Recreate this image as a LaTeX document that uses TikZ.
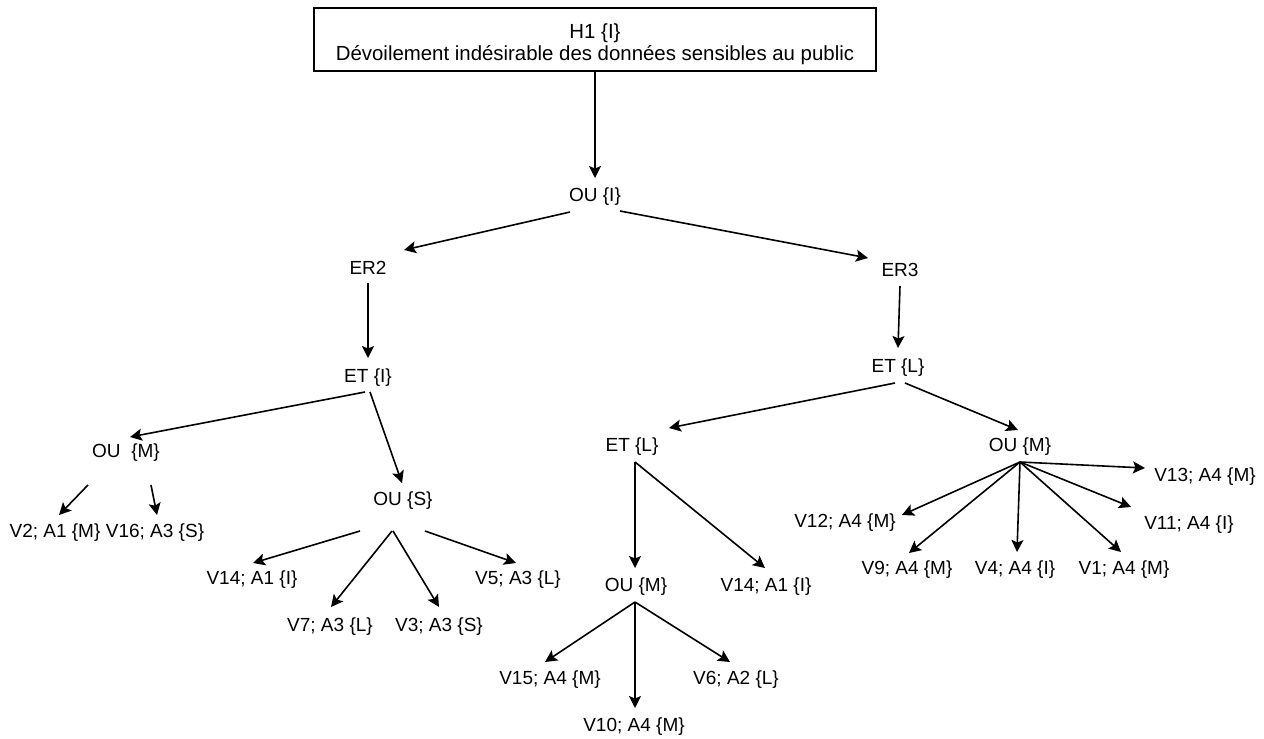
\documentclass[tikz,border=0pt]{standalone}
\usepackage{fontspec}
\setmainfont{Liberation Sans}
\usetikzlibrary{arrows.meta,calc}
\begin{document}
\begin{tikzpicture}[x=1pt,y=-1pt,
  lbl/.style={inner sep=0pt, font=\fontsize{19}{22}\selectfont},
  arr/.style={draw, line width=1.6pt, -{Stealth[length=12pt,width=12pt,inset=2.5pt]}}]
\useasboundingbox (0,0) rectangle (1264,739);
\node[draw, line width=1.5pt, minimum width=562pt, minimum height=63pt, inner sep=0pt, align=center, font=\fontsize{20.4}{22}\selectfont] (h1) at (595,39.5) {\rule{0pt}{25pt}H1 \{I\}\\Dévoilement indésirable des données sensibles au public};
\node[lbl] (oui) at (595,197) {OU \{I\}};
\node[lbl] (er2) at (368,268) {ER2};
\node[lbl] (er3) at (900,270) {ER3};
\node[lbl] (eti) at (368,378) {ET \{I\}};
\node[lbl] (etl) at (898,368) {ET \{L\}};
\node[lbl] (oum1) at (126,453) {OU~~\{M\}};
\node[lbl] (ous) at (403,501) {OU \{S\}};
\node[lbl] (v2) at (55,533) {V2; A1 \{M\}};
\node[lbl] (v16) at (155,533) {V16; A3 \{S\}};
\node[lbl] (v14a) at (252,580) {V14; A1 \{I\}};
\node[lbl] (v7) at (330,627) {V7; A3 \{L\}};
\node[lbl] (v3) at (439,627) {V3; A3 \{S\}};
\node[lbl] (v5) at (518,580) {V5; A3 \{L\}};
\node[lbl] (etl2) at (632,447) {ET \{L\}};
\node[lbl] (oum2) at (1020,447) {OU \{M\}};
\node[lbl] (oum3) at (636,587) {OU \{M\}};
\node[lbl] (v14b) at (766,587) {V14; A1 \{I\}};
\node[lbl] (v15) at (550,680) {V15; A4 \{M\}};
\node[lbl] (v10) at (634,727) {V10; A4 \{M\}};
\node[lbl] (v6) at (736,680) {V6; A2 \{L\}};
\node[lbl] (v13) at (1205,477) {V13; A4 \{M\}};
\node[lbl] (v11) at (1189,525) {V11; A4 \{I\}};
\node[lbl] (v1) at (1124,570) {V1; A4 \{M\}};
\node[lbl] (v4) at (1015,570) {V4; A4 \{I\}};
\node[lbl] (v9) at (907,570) {V9; A4 \{M\}};
\node[lbl] (v12) at (845,523) {V12; A4 \{M\}};
% connectors
\draw[arr] ($(h1)+(0,31)$) -- ($(oui)+(0,-19)$);
\draw[arr] ($(oui)+(-25,15)$) -- ($(er2)+(36,-18)$);
\draw[arr] ($(oui)+(25,14)$) -- ($(er3)+(-32,-12)$);
\draw[arr] ($(er2)+(0,15)$) -- ($(eti)+(0,-20)$);
\draw[arr] ($(er3)+(0,16)$) -- ($(etl)+(0,-20)$);
\draw[arr] ($(eti)+(-3,14)$) -- ($(oum1)+(4,-16)$);
\draw[arr] ($(eti)+(2,14)$) -- ($(ous)+(-1,-18)$);
\draw[arr] ($(oum1)+(-38,32)$) -- ($(v2)+(4,-18)$);
\draw[arr] ($(oum1)+(25,32)$) -- ($(v16)+(2,-18)$);
\draw[arr] ($(ous)+(-43,30)$) -- ($(v14a)+(1,-17)$);
\draw[arr] ($(ous)+(-11,30)$) -- ($(v7)+(1,-20)$);
\draw[arr] ($(ous)+(-10,30)$) -- ($(v3)+(0,-20)$);
\draw[arr] ($(ous)+(22,30)$) -- ($(v5)+(-2,-17)$);
\draw[arr] ($(etl)+(-3,15)$) -- ($(etl2)+(37,-19)$);
\draw[arr] ($(etl)+(7,15)$) -- ($(oum2)+(-2,-17)$);
\draw[arr] ($(etl2)+(3,15)$) -- ($(oum3)+(-1,-19)$);
\draw[arr] ($(etl2)+(3,15)$) -- ($(v14b)+(-1,-19)$);
\draw[arr] ($(oum3)+(-1,15)$) -- ($(v15)+(-5,-18)$);
\draw[arr] ($(oum3)+(-1,15)$) -- ($(v10)+(1,-19)$);
\draw[arr] ($(oum3)+(-1,15)$) -- ($(v6)+(-6,-18)$);
\draw[arr] ($(oum2)+(0,15)$) -- ($(v13)+(-60,-9)$);
\draw[arr] ($(oum2)+(0,15)$) -- ($(v11)+(-58,-18)$);
\draw[arr] ($(oum2)+(0,15)$) -- ($(v1)+(-3,-18)$);
\draw[arr] ($(oum2)+(0,15)$) -- ($(v4)+(2,-18)$);
\draw[arr] ($(oum2)+(0,15)$) -- ($(v9)+(2,-17)$);
\draw[arr] ($(oum2)+(0,15)$) -- ($(v12)+(57,-8)$);
\end{tikzpicture}
\end{document}
